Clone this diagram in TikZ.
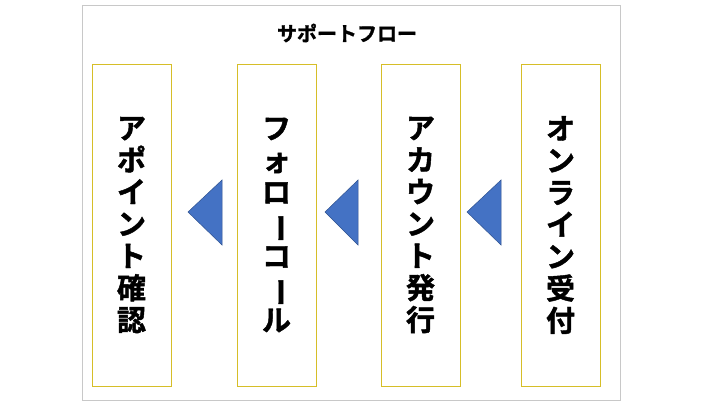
\documentclass[tikz,border=0pt]{standalone}
\usepackage{fontspec}
\usepackage{graphicx}
\newfontfamily\jp{Noto Sans CJK JP}[BoldFont={Noto Sans CJK JP Bold},BoldFeatures={FakeBold=1.5}]
\newcommand{\vb}{\rotatebox[origin=c]{-90}{ー}}
\begin{document}
\begin{tikzpicture}[x=1pt,y=-1pt,
  stepbox/.style={draw={rgb,255:red,214;green,190;blue,40},line width=0.8pt},
  vtxt/.style={font=\jp\bfseries\fontsize{29}{32}\selectfont,align=center},
  tri/.style={fill={rgb,255:red,68;green,114;blue,196},draw={rgb,255:red,47;green,82;blue,143},line width=0.5pt}]
\useasboundingbox (0,0) rectangle (720,405);
\draw[draw={rgb,255:red,200;green,200;blue,200}] (82,5) rectangle (620,400);
\node[font=\jp\bfseries\fontsize{20}{22}\selectfont] (title) at (347,33) {サポートフロー};
\draw[stepbox] (92,64) rectangle (171,386);
\draw[stepbox] (237,64) rectangle (316,386);
\draw[stepbox] (381,64) rectangle (460,386);
\draw[stepbox] (521,64) rectangle (600,386);
\node[vtxt] (a) at (131.5,225) {ア\\ポ\\イ\\ン\\ト\\確\\認};
\node[vtxt] (b) at (276.5,225) {フ\\ォ\\ロ\\\vb\\コ\\\vb\\ル};
\node[vtxt] (c) at (420.5,225) {ア\\カ\\ウ\\ン\\ト\\発\\行};
\node[vtxt] (d) at (560.5,225) {オ\\ン\\ラ\\イ\\ン\\受\\付};
\draw[tri] (188,212) -- (222,180) -- (222,245) -- cycle;
\draw[tri] (325,212) -- (358,180) -- (358,245) -- cycle;
\draw[tri] (467,212) -- (501,180) -- (501,245) -- cycle;
\end{tikzpicture}
\end{document}
